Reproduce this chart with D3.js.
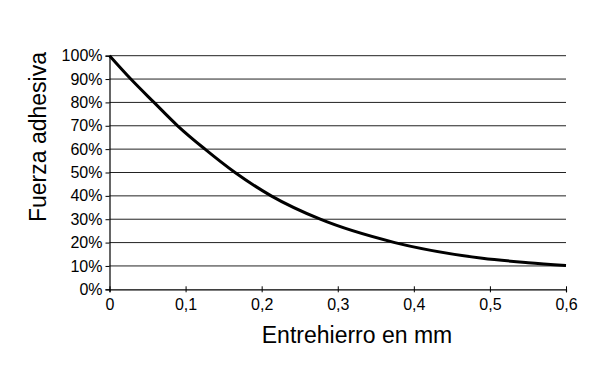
<!DOCTYPE html>
<html>
<head>
<meta charset="utf-8">
<script src="https://cdn.jsdelivr.net/npm/d3@7"></script>
<style>
    body { margin: 0; background: #fff; }
    svg text { font-family: "Liberation Sans", Arial, Helvetica, sans-serif; fill: #000; }
</style>
</head>
<body>
<div id="chart"></div>
<script>
// Gap (mm) vs. adhesive force (fraction of max)
const gapMm = [0, 0.028, 0.0585, 0.0895, 0.1255, 0.165, 0.2125, 0.277, 0.375, 0.49, 0.55, 0.6];
const force = [1.0, 0.9, 0.8, 0.7, 0.6, 0.5, 0.4, 0.3, 0.2, 0.133, 0.114, 0.102];

const xTicks = [0, 0.1, 0.2, 0.3, 0.4, 0.5, 0.6];
const xTickLabels = ['0', '0,1', '0,2', '0,3', '0,4', '0,5', '0,6'];
const yTicks = [0, 0.1, 0.2, 0.3, 0.4, 0.5, 0.6, 0.7, 0.8, 0.9, 1.0];
const yTickLabels = ['0%', '10%', '20%', '30%', '40%', '50%', '60%', '70%', '80%', '90%', '100%'];

const width = 600, height = 386;
const margin = { left: 109.5, right: 34, top: 55.7, bottom: 96.7 };

const svg = d3.select('#chart')
    .append('svg')
    .attr('width', width)
    .attr('height', height);

const x = d3.scaleLinear()
    .domain([0, 0.6])
    .range([margin.left, width - margin.right]);

const y = d3.scaleLinear()
    .domain([0, 1])
    .range([height - margin.bottom, margin.top]);

// Horizontal gridlines
svg.append('g')
    .selectAll('line')
    .data(yTicks.filter(d => d > 0))
    .join('line')
    .attr('x1', x(0))
    .attr('x2', x(0.6))
    .attr('y1', d => y(d))
    .attr('y2', d => y(d))
    .attr('stroke', '#222')
    .attr('stroke-width', 1);

// Y axis
const yAxis = d3.axisLeft(y)
    .tickValues(yTicks)
    .tickFormat((d, i) => yTickLabels[i])
    .tickSize(4)
    .tickPadding(3);

const gy = svg.append('g')
    .attr('transform', `translate(${x(0)},0)`)
    .call(yAxis);
gy.select('.domain').attr('stroke', '#000').attr('stroke-width', 1.2);
gy.selectAll('.tick line').attr('stroke', '#000');
gy.selectAll('.tick text')
    .style('font-size', '16px')
    .attr('fill', '#000');

// X axis
const xAxis = d3.axisBottom(x)
    .tickValues(xTicks)
    .tickFormat((d, i) => xTickLabels[i])
    .tickSize(3)
    .tickPadding(6);

const gx = svg.append('g')
    .attr('transform', `translate(0,${y(0)})`)
    .call(xAxis);
gx.select('.domain').attr('stroke', '#000').attr('stroke-width', 1.2);
gx.selectAll('.tick line').attr('stroke', '#000').attr('y1', -3);
gx.selectAll('.tick text')
    .style('font-size', '16px')
    .attr('fill', '#000');

// Curve
const line = d3.line()
    .x((d, i) => x(gapMm[i]))
    .y(d => y(d))
    .curve(d3.curveMonotoneX);

svg.append('path')
    .datum(force)
    .attr('d', line)
    .attr('fill', 'none')
    .attr('stroke', '#000')
    .attr('stroke-width', 3);

// Axis titles
svg.append('text')
    .attr('x', 357)
    .attr('y', 343)
    .attr('text-anchor', 'middle')
    .style('font-size', '23px')
    .text('Entrehierro en mm');

svg.append('text')
    .attr('transform', 'translate(46,137) rotate(-90)')
    .attr('text-anchor', 'middle')
    .style('font-size', '23px')
    .text('Fuerza adhesiva');
</script>
</body>
</html>
